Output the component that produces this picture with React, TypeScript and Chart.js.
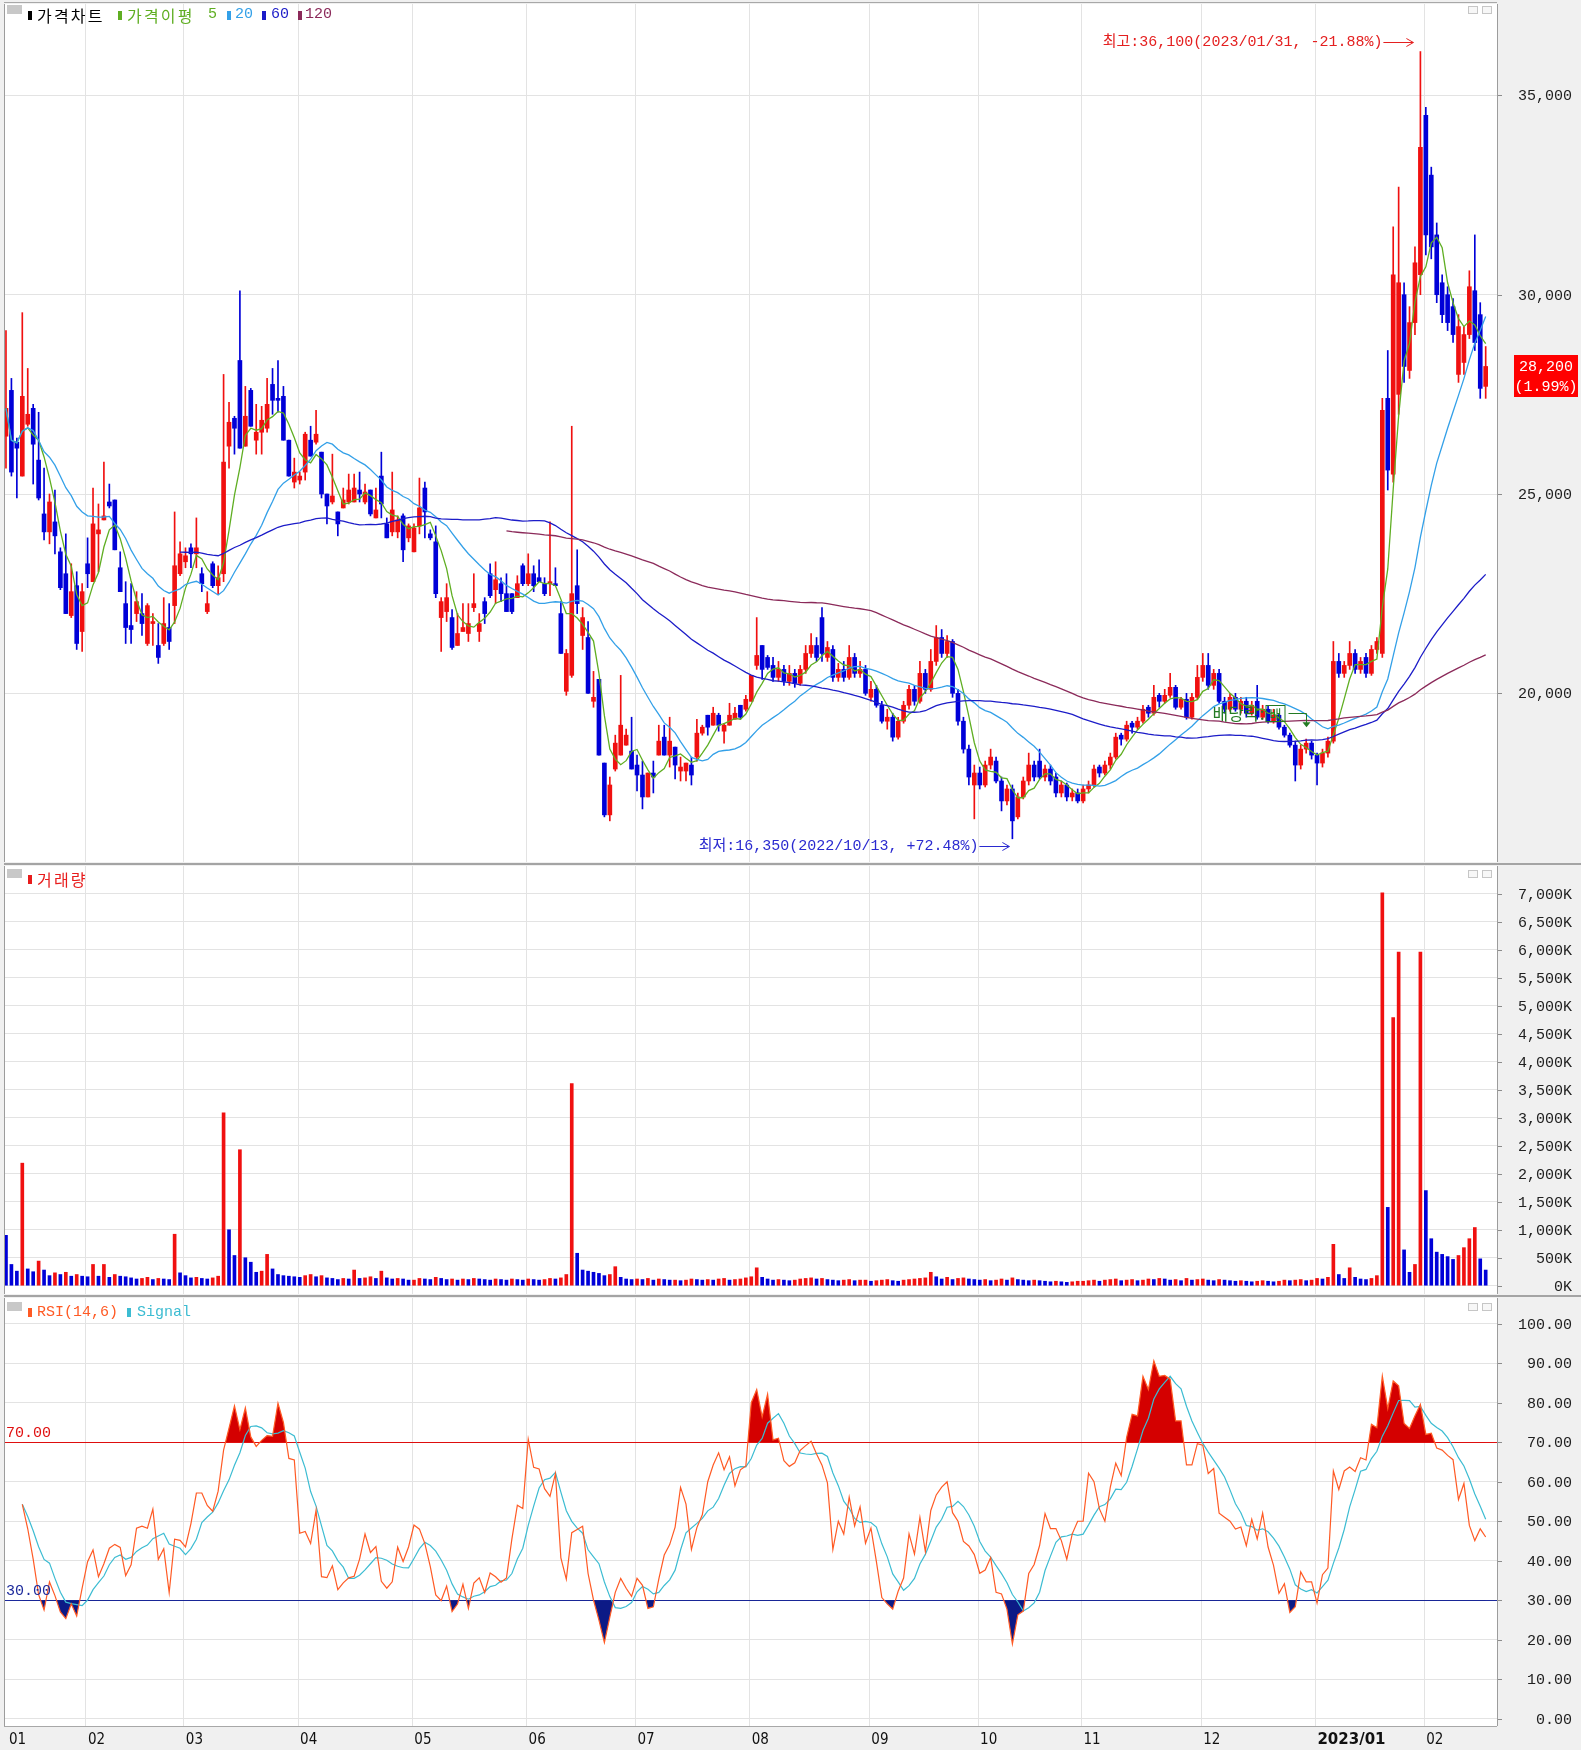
import React, { useEffect, useRef } from "react";
import { Chart, registerables } from "chart.js";

Chart.register(...registerables);

// ---------------- data ----------------
const MONTH_START = [0, 15, 33, 54, 75, 96, 116, 137, 159, 179, 198, 220, 241, 261];
const MONTH_LABELS = ["01", "02", "03", "04", "05", "06", "07", "08", "09", "10", "11", "12", "2023/01", "02"];

const OPEN = [
  // 2022-01
  26450, 27600, 26300, 25450, 26750, 27150, 25850, 24500, 24050, 24300, 23550, 23000, 21950, 22700, 21550,
  // 02
  23250, 22800, 24000, 24350, 24800, 24850, 23150, 22250, 21700, 22000, 22000, 21250, 21750, 21200, 21250, 21650, 22200, 23000,
  // 03
  23300, 23650, 23500, 23000, 22050, 23250, 22700, 23000, 26200, 26900, 28350, 26200, 27600, 26350, 26550, 26650, 27750, 27400, 27450, 26350, 25300,
  // 04
  25350, 25550, 26350, 26300, 26050, 25000, 24800, 24550, 24650, 24800, 24800, 25100, 24800, 25100, 24400, 25450, 24250, 24050, 24050, 24450, 23900,
  // 05
  23550, 24200, 25150, 24000, 23800, 21900, 22050, 21900, 21200, 21550, 21500, 22150, 21550, 22300, 23000, 22600, 22750, 22500, 22500, 22400, 23200,
  // 06
  22750, 23000, 22900, 22750, 22750, 22750, 22000, 20050, 20450, 22700, 21450, 21400, 19800, 20350, 18250, 16950, 18100, 18450, 18700, 18550,
  // 07
  18200, 17950, 17400, 18000, 18450, 18900, 18450, 18650, 18050, 18050, 18200, 18400, 19000, 19450, 19200, 19450, 19050, 19200, 19350, 19700, 19600,
  // 08
  19800, 20700, 21200, 20900, 20700, 20400, 20600, 20300, 20500, 20250, 20600, 21000, 21200, 21900, 20900, 21100, 20400, 20600, 20400, 20900, 20500, 20600,
  // 09
  19900, 20100, 19700, 19300, 19400, 18900, 19300, 19700, 20100, 19800, 20500, 20100, 20800, 21400, 21000, 21300, 20000, 19300, 18600, 17700,
  // 10
  18000, 17700, 18200, 18300, 17800, 17300, 17600, 16900, 17400, 17800, 18200, 18300, 17900, 18100, 17900, 17500, 17700, 17400, 17500,
  // 11
  17300, 17600, 17700, 18150, 18000, 18200, 18400, 18950, 18850, 19250, 19150, 19300, 19650, 19500, 19950, 19800, 19950, 20150, 19650, 19850, 19400, 19900,
  // 12
  20400, 20700, 20200, 20500, 19800, 19600, 19900, 19600, 19800, 19500, 19800, 19400, 19600, 19300, 19450, 19150, 18950, 18700, 18200, 18600, 18750,
  // 2023-01
  18450, 18250, 18500, 18800, 20800, 20500, 20700, 21000, 20600, 20900, 20500, 21100, 21000, 27400, 25500, 27500, 30000, 28100, 29300, 30500,
  // 02
  34500, 33000, 31500, 30300, 30000, 29700, 28000, 28300, 29000, 30100, 29500, 27700,
];

const HIGH = [
  29100, 27900, 26400, 29550, 28150, 27250, 27050, 25650, 25000, 25100, 23650, 24000, 23250, 23050, 22750,
  23900, 25150, 24750, 25800, 25250, 24850, 23550, 22800, 22750, 22550, 22500, 22250, 22000, 21750, 22400, 22250, 24550, 23800,
  23650, 23750, 24400, 23150, 22550, 23300, 23200, 28000, 27300, 26950, 30100, 27700, 27650, 27250, 27200, 27900, 28150, 28350, 27700, 26350, 25900,
  25550, 26550, 26700, 27100, 26050, 25000, 26000, 24550, 25150, 25500, 25500, 25550, 25250, 25100, 25150, 26050, 24400, 25550, 24450, 24500, 24250,
  24250, 25400, 25300, 24100, 24200, 22400, 22750, 22100, 22000, 22250, 22250, 23000, 22000, 22400, 23250, 23300, 22900, 23000, 22500, 22950, 23250,
  23500, 23200, 23350, 22900, 24300, 23150, 22300, 21100, 26700, 23600, 22150, 21800, 20550, 20350, 18250, 17900, 18950, 20450, 19100, 19400,
  18450, 18300, 18000, 18300, 19200, 19200, 19400, 18650, 18400, 18250, 18400, 19350, 19200, 19450, 19650, 19500, 19250, 19750, 19650, 19700, 19950,
  20450, 21900, 21200, 20950, 20900, 20800, 20700, 20700, 20600, 20700, 21200, 21500, 21400, 22150, 21300, 21200, 20750, 20800, 21200, 21000, 20800, 20700,
  20300, 20200, 19800, 19600, 19500, 19400, 19800, 20200, 20200, 20800, 20600, 21100, 21700, 21600, 21450, 21350, 20100, 19400, 18700, 18200,
  18150, 18300, 18600, 18400, 17900, 17700, 17700, 17500, 17900, 18500, 18300, 18600, 18200, 18200, 18000, 17800, 17750, 17600, 17600,
  17700, 17800, 18200, 18200, 18300, 18500, 19000, 19000, 19300, 19300, 19400, 19700, 19700, 20200, 20000, 20100, 20500, 20200, 19900, 20000, 20000, 20700,
  21000, 21000, 20600, 20600, 19900, 20000, 20000, 19900, 19900, 19800, 20200, 19700, 19700, 19600, 19500, 19200, 19000, 18800, 18700, 18850, 18800,
  18500, 18600, 18900, 21300, 21000, 20800, 21300, 21100, 20900, 21000, 21200, 21400, 27400, 28600, 31700, 32700, 30300, 29700, 31200, 36100,
  34700, 33200, 31800, 30500, 30200, 29900, 29500, 29200, 30600, 31500, 29800, 28700,
];

const LOW = [
  // 2022-01
  25650, 25450, 24900, 25450, 26700, 25250, 24850, 23850, 23750, 23500, 22600, 22000, 21900, 21100, 21050,
  // 02
  22650, 22800, 23050, 24350, 24650, 23600, 22550, 21250, 21250, 21800, 21450, 21200, 21200, 20750, 21200, 21100, 21750, 22950,
  // 03
  23150, 23150, 23150, 22550, 22000, 22650, 22500, 22800, 25650, 26000, 26150, 26200, 26700, 26000, 26000, 26550, 27000, 27050, 26350, 25450, 25150,
  // 04
  25250, 25350, 25950, 26250, 24900, 24250, 24750, 23950, 24650, 24750, 24800, 24800, 24750, 24450, 24400, 24400, 23900, 23950, 23900, 23300, 23800,
  // 05
  23550, 24000, 23900, 23850, 22400, 21050, 21800, 21100, 21200, 21550, 21300, 22050, 21300, 21750, 22400, 22250, 22300, 22050, 22000, 22400, 22700,
  // 06
  22700, 22550, 22800, 22450, 22450, 22700, 21000, 19950, 20400, 22000, 21100, 20000, 19650, 18450, 16900, 16800, 18050, 18450, 18700, 18100,
  // 07
  17550, 17100, 17400, 17500, 18450, 18450, 18150, 17850, 17800, 17800, 17700, 18300, 18950, 18950, 19200, 19050, 18750, 19200, 19350, 19350, 19550,
  // 08
  19800, 20600, 20350, 20600, 20300, 20300, 20200, 20200, 20150, 20200, 20500, 20900, 20800, 20800, 20800, 20300, 20300, 20300, 20350, 20400, 20400, 19950,
  // 09
  19800, 19650, 19250, 19100, 18800, 18850, 19250, 19600, 19700, 19750, 20000, 20050, 20700, 20900, 20900, 19900, 19200, 18500, 17700, 16850,
  // 10
  17600, 17650, 18100, 17750, 17050, 17200, 16350, 16850, 17350, 17700, 17800, 17850, 17800, 17700, 17400, 17400, 17300, 17300, 17250,
  // 11
  17250, 17500, 17650, 17900, 17950, 18100, 18350, 18700, 18800, 19000, 19100, 19250, 19400, 19450, 19650, 19750, 19900, 19600, 19600, 19350, 19350, 19850,
  // 12
  20300, 20100, 20100, 19750, 19500, 19550, 19550, 19500, 19400, 19450, 19350, 19350, 19250, 19250, 19100, 18900, 18650, 17800, 18100, 18500, 18350,
  // 2023-01
  17700, 18150, 18400, 18750, 20400, 20400, 20600, 20500, 20500, 20400, 20450, 21000, 20900, 25100, 25300, 27000, 27800, 27900, 29000, 30000,
  // 02
  31000, 30900, 29800, 29300, 29100, 28800, 27800, 28000, 28900, 28600, 27400, 27400,
];

const CLOSE = [
  27150, 25550, 26150, 27450, 27000, 26250, 24900, 24050, 24800, 23950, 22650, 22000, 22550, 21250, 22550,
  23000, 24250, 24100, 24450, 24700, 23600, 22550, 21650, 21600, 22300, 21750, 22200, 21800, 20900, 21750, 21300, 23200, 23500,
  23450, 23500, 23650, 22750, 22250, 22700, 22900, 25800, 26800, 26650, 26150, 26950, 26700, 26550, 26850, 27250, 27350, 27350, 26350, 25450, 25550,
  25450, 26500, 25950, 26500, 25000, 24700, 24950, 24250, 24850, 25100, 25150, 25000, 25050, 24500, 24600, 24750, 23900, 24600, 24350, 23600, 24200,
  24150, 24650, 24550, 23900, 22500, 22300, 22400, 21150, 21500, 21650, 21750, 22250, 21750, 22000, 22450, 22850, 22500, 22050, 22050, 22750, 22750,
  23000, 22700, 22800, 22500, 22800, 22700, 21000, 21000, 22500, 22250, 21900, 20000, 19900, 18450, 16950, 17700, 18750, 19200, 18950, 18100,
  17950, 17400, 18000, 17900, 18800, 18450, 18800, 18200, 18150, 18250, 17950, 19000, 19150, 19150, 19500, 19200, 19200, 19450, 19500, 19400, 19850,
  20450, 20950, 20600, 20650, 20400, 20600, 20300, 20500, 20250, 20600, 21000, 21200, 20900, 21000, 21150, 20400, 20600, 20400, 20900, 20500, 20600, 20000,
  20100, 19700, 19300, 19400, 18900, 19300, 19700, 20100, 19800, 20500, 20100, 20800, 21400, 21000, 21300, 20000, 19300, 18600, 17900, 18000,
  17700, 18200, 18400, 17800, 17300, 17600, 16800, 17400, 17800, 18200, 17900, 17900, 18100, 17800, 17500, 17700, 17400, 17500, 17300,
  17600, 17700, 18100, 18000, 18200, 18400, 18900, 18850, 19200, 19150, 19300, 19600, 19500, 19900, 19800, 19950, 20150, 19650, 19850, 19400, 19900, 20400,
  20700, 20200, 20500, 19800, 19600, 19900, 19600, 19800, 19500, 19700, 19400, 19600, 19300, 19450, 19150, 18950, 18700, 18200, 18600, 18750, 18450,
  18250, 18500, 18800, 20800, 20500, 20700, 21000, 20600, 20800, 20500, 21100, 21300, 27100, 25600, 30500, 30300, 28200, 29300, 30800, 33700,
  31500, 31200, 30000, 29500, 29300, 29000, 29200, 29000, 30200, 28800, 27650, 28200,
];

// volume in thousands of shares
const VOLUME_K = [
  900, 380, 260, 2190, 300, 250, 440, 280, 180, 230, 200, 240, 170, 200, 170,
  160, 380, 170, 380, 150, 200, 170, 160, 140, 120, 130, 150, 110, 130, 120, 110, 920, 230,
  180, 140, 150, 130, 120, 140, 170, 3090, 1000, 540, 2430, 500, 420, 240, 260, 560, 300, 200, 180, 170, 160,
  150, 180, 200, 160, 180, 140, 130, 110, 130, 120, 280, 130, 140, 160, 130, 260, 140, 120, 130, 120, 100,
  100, 130, 120, 110, 150, 130, 110, 120, 100, 120, 110, 130, 120, 110, 100, 120, 110, 100, 120, 110, 100,
  120, 110, 100, 110, 130, 120, 140, 200, 3610, 580, 280, 260, 240, 220, 180, 200, 340, 150, 120, 110,
  120, 110, 130, 100, 120, 110, 100, 100, 90, 100, 120, 110, 100, 110, 100, 120, 130, 100, 110, 120, 140,
  160, 320, 150, 120, 100, 110, 100, 90, 100, 120, 130, 140, 120, 130, 110, 100, 90, 100, 110, 90, 100, 100,
  80, 90, 100, 110, 90, 80, 100, 110, 120, 130, 140, 240, 160, 120, 150, 110, 130, 140, 120, 110,
  100, 110, 90, 100, 120, 100, 140, 110, 100, 90, 100, 90, 80, 70, 80, 70, 60, 70, 80,
  80, 90, 100, 80, 100, 110, 120, 90, 100, 110, 90, 100, 120, 110, 130, 120, 100, 110, 90, 130, 100, 110,
  120, 100, 90, 110, 100, 90, 80, 90, 80, 70, 80, 90, 80, 70, 80, 100, 90, 100, 110, 90, 100,
  130, 120, 150, 740, 200, 130, 320, 150, 120, 110, 130, 180, 7020, 1400, 4790, 5960, 640, 240, 380, 5960,
  1700, 840, 600, 560, 520, 470, 540, 680, 840, 1040, 480, 280,
];

const PRICE_TICKS = [20000, 25000, 30000, 35000];
const VOLUME_TICKS = [0, 500, 1000, 1500, 2000, 2500, 3000, 3500, 4000, 4500, 5000, 5500, 6000, 6500, 7000];
const RSI_TICKS = [0, 10, 20, 30, 40, 50, 60, 70, 80, 90, 100];
const RSI_LEVELS = [70, 30];
const HIGH_DATE = "2023/01/31";
const LOW_DATE = "2022/10/13";
const DIVIDEND_INDEX = 239;

// ---------------- derived indicator series ----------------
const N = CLOSE.length;
const IDX = CLOSE.map((_, i) => i);

function movingAverage(values: number[], period: number, firstShown: number) {
  return values.map((_, i) => {
    if (i < firstShown) return null;
    const from = Math.max(0, i - period + 1);
    let s = 0;
    for (let k = from; k <= i; k++) s += values[k];
    return s / (i - from + 1);
  });
}

// RSI with simple averages of gains / losses over the period
function rsiSeries(closes: number[], period: number, firstShown: number) {
  return closes.map((_, i) => {
    if (i < firstShown) return null;
    const from = Math.max(1, i - period + 1);
    let g = 0;
    let l = 0;
    for (let k = from; k <= i; k++) {
      const d = closes[k] - closes[k - 1];
      if (d > 0) g += d;
      else l -= d;
    }
    return g + l === 0 ? 50 : (100 * g) / (g + l);
  });
}

const MA5 = movingAverage(CLOSE, 5, 0);
const MA20 = movingAverage(CLOSE, 20, 0);
const MA60 = movingAverage(CLOSE, 60, 32);
const MA120 = movingAverage(CLOSE, 120, 92);
const RSI = rsiSeries(CLOSE, 14, 3);
const SIGNAL = RSI.map((_, i) => {
  const vals = RSI.slice(Math.max(0, i - 5), i + 1).filter((v) => v != null) as number[];
  return RSI[i] == null || !vals.length ? null : vals.reduce((s, v) => s + v, 0) / vals.length;
});

// ---------------- style constants ----------------
const W = 1581;
const PLOT_RIGHT_PAD = W - 1497;
const X_MIN = -0.18;
const X_MAX = 274.08;
const LABEL_RIGHT = 1572;
const GRID = "#e3e3e3";
const RED = "#f01010";
const BLUE = "#0000d8";
const C_MA5 = "#5fae22";
const C_MA20 = "#33a0e8";
const C_MA60 = "#1c1cc8";
const C_MA120 = "#8b2a5a";
const FONT_MONO = "'Liberation Mono', 'DejaVu Sans Mono', 'Noto Sans CJK KR', monospace";
const FONT_KR = "'Noto Sans CJK KR', 'Noto Sans', sans-serif";

const CANDLE_COLORS = IDX.map((i) => (CLOSE[i] >= OPEN[i] ? RED : BLUE));
// volume bars: red when volume rose from the previous session, blue otherwise
const VOLUME_COLORS = IDX.map((i) => (i > 0 && VOLUME_K[i] >= VOLUME_K[i - 1] ? RED : BLUE));

function xScale() {
  return {
    type: "linear",
    min: X_MIN,
    max: X_MAX,
    offset: false,
    afterBuildTicks: (s: any) => {
      s.ticks = MONTH_START.slice(1).map((m) => ({ value: m - 0.3 }));
    },
    afterFit: (s: any) => {
      s.height = 0;
    },
    ticks: { display: false },
    grid: { color: GRID, lineWidth: 1, drawTicks: false, offset: false },
    border: { display: false },
  };
}

function yScale(min: number, max: number, ticks: number[]) {
  return {
    type: "linear",
    min,
    max,
    afterBuildTicks: (s: any) => {
      s.ticks = ticks.map((v) => ({ value: v }));
    },
    afterFit: (s: any) => {
      s.width = 0;
    },
    ticks: { display: false },
    grid: { color: GRID, lineWidth: 1, drawTicks: false },
    border: { display: false },
  };
}

function framePlugin(ticks: number[], fmt: (v: number) => string) {
  return {
    id: "frame",
    beforeDraw(chart: any) {
      const { ctx, chartArea: a } = chart;
      ctx.save();
      ctx.fillStyle = "#ffffff";
      ctx.fillRect(a.left, a.top, a.right - a.left, a.bottom - a.top);
      ctx.restore();
    },
    afterDraw(chart: any) {
      const { ctx, chartArea: a } = chart;
      const ys = chart.scales.y;
      ctx.save();
      ctx.strokeStyle = "#9c9c9c";
      ctx.lineWidth = 1;
      ctx.beginPath();
      ctx.moveTo(a.left - 0.5, a.top);
      ctx.lineTo(a.left - 0.5, a.bottom);
      ctx.moveTo(a.right + 0.5, a.top);
      ctx.lineTo(a.right + 0.5, a.bottom);
      ctx.stroke();
      ctx.font = `15px ${FONT_MONO}`;
      ctx.fillStyle = "#202020";
      ctx.textAlign = "right";
      ctx.textBaseline = "middle";
      for (const v of ticks) {
        const y = Math.round(ys.getPixelForValue(v)) + 0.5;
        ctx.strokeStyle = "#8c8c8c";
        ctx.beginPath();
        ctx.moveTo(a.right + 1, y);
        ctx.lineTo(a.right + 5, y);
        ctx.stroke();
        ctx.fillText(fmt(v), LABEL_RIGHT, y + 1);
      }
      ctx.restore();
    },
  };
}

const fmtNum = (v: number) => v.toLocaleString("en-US");
const pctText = (ratio: number) => {
  const p = (ratio - 1) * 100;
  return (p >= 0 ? "+" : "") + p.toFixed(2);
};

function drawNote(ctx: any, text: string, endX: number, y: number, color: string) {
  const arrowLen = 30;
  ctx.save();
  ctx.font = `15px ${FONT_MONO}`;
  ctx.fillStyle = color;
  ctx.strokeStyle = color;
  ctx.lineWidth = 1;
  ctx.textAlign = "right";
  ctx.textBaseline = "middle";
  ctx.fillText(text, endX - arrowLen - 1, y);
  const ly = Math.round(y) + 0.5;
  ctx.beginPath();
  ctx.moveTo(endX - arrowLen, ly);
  ctx.lineTo(endX, ly);
  ctx.moveTo(endX - 7, ly - 4);
  ctx.lineTo(endX, ly);
  ctx.lineTo(endX - 7, ly + 4);
  ctx.stroke();
  ctx.restore();
}

const priceNotes = {
  id: "priceNotes",
  afterDraw(chart: any) {
    const { ctx } = chart;
    const xs = chart.scales.x;
    const ys = chart.scales.y;
    const last = CLOSE[N - 1];
    let hi = 0;
    let lo = 0;
    for (let i = 1; i < N; i++) {
      if (HIGH[i] > HIGH[hi]) hi = i;
      if (LOW[i] < LOW[lo]) lo = i;
    }
    drawNote(
      ctx,
      `최고:${fmtNum(HIGH[hi])}(${HIGH_DATE}, ${pctText(last / HIGH[hi])}%)`,
      xs.getPixelForValue(hi) - 7,
      ys.getPixelForValue(HIGH[hi]) - 10,
      "#e42020"
    );
    drawNote(
      ctx,
      `최저:${fmtNum(LOW[lo])}(${LOW_DATE}, ${pctText(last / LOW[lo])}%)`,
      xs.getPixelForValue(lo) - 3,
      ys.getPixelForValue(LOW[lo]) + 7,
      "#2a2ad0"
    );

    // ex-dividend marker
    const dx = Math.round(xs.getPixelForValue(DIVIDEND_INDEX)) + 0.5;
    const tipY = ys.getPixelForValue(HIGH[DIVIDEND_INDEX]) - 12;
    const lineY = Math.round(tipY - 14) + 0.5;
    ctx.save();
    const green = "#237a23";
    ctx.strokeStyle = green;
    ctx.fillStyle = green;
    ctx.lineWidth = 1;
    ctx.beginPath();
    ctx.moveTo(dx - 18, lineY);
    ctx.lineTo(dx, lineY);
    ctx.lineTo(dx, tipY - 4);
    ctx.stroke();
    ctx.beginPath();
    ctx.moveTo(dx - 4, tipY - 5);
    ctx.lineTo(dx + 4, tipY - 5);
    ctx.lineTo(dx, tipY);
    ctx.closePath();
    ctx.fill();
    ctx.font = `17px ${FONT_KR}`;
    ctx.textAlign = "right";
    ctx.textBaseline = "middle";
    ctx.fillText("배당락", dx - 47, lineY);
    ctx.fillText(":", dx - 42, lineY);
    ctx.strokeRect(dx - 40.5, lineY - 8, 19, 16);
    ctx.font = `13px ${FONT_KR}`;
    ctx.textAlign = "center";
    ctx.fillText("배", dx - 31, lineY + 0.5);
    ctx.restore();

    // last price box
    const py = ys.getPixelForValue(last);
    ctx.save();
    ctx.fillStyle = "#ff0000";
    ctx.fillRect(1514, Math.round(py) - 11, 64, 42);
    ctx.fillStyle = "#ffffff";
    ctx.font = `15px ${FONT_MONO}`;
    ctx.textAlign = "center";
    ctx.textBaseline = "middle";
    ctx.fillText(fmtNum(last), 1546, Math.round(py) + 1);
    ctx.fillText(`(${pctText(last / CLOSE[N - 2]).replace("+", "")}%)`, 1546, Math.round(py) + 21);
    ctx.restore();
  },
};

const rsiDecor = {
  id: "rsiDecor",
  beforeDatasetsDraw(chart: any) {
    const { ctx, chartArea: a } = chart;
    const ys = chart.scales.y;
    ctx.save();
    RSI_LEVELS.forEach((v) => {
      const y = Math.round(ys.getPixelForValue(v)) + 0.5;
      ctx.strokeStyle = v >= 50 ? "#e01010" : "#1c2a9c";
      ctx.lineWidth = 1;
      ctx.beginPath();
      ctx.moveTo(a.left, y);
      ctx.lineTo(a.right, y);
      ctx.stroke();
    });
    ctx.restore();
  },
  afterDraw(chart: any) {
    const { ctx, chartArea: a } = chart;
    const xs = chart.scales.x;
    const ys = chart.scales.y;
    ctx.save();
    ctx.font = `15px ${FONT_MONO}`;
    ctx.textAlign = "left";
    ctx.textBaseline = "bottom";
    RSI_LEVELS.forEach((v) => {
      const y = Math.round(ys.getPixelForValue(v));
      ctx.fillStyle = v >= 50 ? "#e01010" : "#1c2a9c";
      ctx.fillText(v.toFixed(2), a.left + 1, y - 1);
    });
    // month labels under the chart
    ctx.fillStyle = "#101010";
    ctx.textBaseline = "middle";
    MONTH_START.forEach((m, k) => {
      const label = MONTH_LABELS[k];
      const x = k === 0 ? a.left + 4 : xs.getPixelForValue(m - 0.3) + 2;
      ctx.font = label.length > 2 ? "bold 15px 'DejaVu Sans', sans-serif" : "15px 'DejaVu Sans Condensed', 'DejaVu Sans', sans-serif";
      ctx.fillText(label, x, a.bottom + 14);
    });
    ctx.restore();
  },
};

const baseOptions = (padding: any) => ({
  responsive: false,
  animation: false,
  events: [],
  layout: { padding },
  plugins: { legend: { display: false }, tooltip: { enabled: false } },
});

function lineDs(label: string, data: (number | null)[], color: string, width = 1.3) {
  return {
    type: "line",
    label,
    data: IDX.map((i) => ({ x: i, y: data[i] })),
    borderColor: color,
    borderWidth: width,
    pointRadius: 0,
    tension: 0,
    fill: false,
    order: 0,
  };
}

function priceConfig(): any {
  return {
    type: "bar",
    data: {
      datasets: [
        lineDs("MA120", MA120, C_MA120),
        lineDs("MA60", MA60, C_MA60),
        lineDs("MA20", MA20, C_MA20),
        lineDs("MA5", MA5, C_MA5),
        {
          type: "bar",
          label: "body",
          data: IDX.map((i) => ({ x: i, y: [OPEN[i], CLOSE[i]] })),
          backgroundColor: CANDLE_COLORS,
          barThickness: 4,
          minBarLength: 1,
          grouped: false,
          order: 1,
        },
        {
          type: "bar",
          label: "wick",
          data: IDX.map((i) => ({ x: i, y: [LOW[i], HIGH[i]] })),
          backgroundColor: CANDLE_COLORS,
          barThickness: 1,
          grouped: false,
          order: 2,
        },
      ],
    },
    options: {
      ...baseOptions({ left: 5, right: PLOT_RIGHT_PAD, top: 4, bottom: 1 }),
      scales: { x: xScale(), y: yScale(15768, 37293, PRICE_TICKS) },
    },
    plugins: [framePlugin(PRICE_TICKS, fmtNum), priceNotes],
  };
}

function volumeConfig(): any {
  return {
    type: "bar",
    data: {
      datasets: [
        {
          label: "volume",
          data: IDX.map((i) => ({ x: i, y: VOLUME_K[i] })),
          backgroundColor: VOLUME_COLORS,
          barThickness: 3,
          grouped: false,
        },
      ],
    },
    options: {
      ...baseOptions({ left: 5, right: PLOT_RIGHT_PAD, top: 1, bottom: 1 }),
      scales: { x: xScale(), y: yScale(-148, 7500, VOLUME_TICKS) },
    },
    plugins: [framePlugin(VOLUME_TICKS, (v) => fmtNum(v) + "K")],
  };
}

function rsiConfig(): any {
  const pts = (arr: (number | null)[]) => IDX.map((i) => ({ x: i, y: arr[i] }));
  return {
    type: "line",
    data: {
      datasets: [
        {
          label: "over",
          data: pts(RSI),
          borderWidth: 0,
          pointRadius: 0,
          fill: { target: { value: 70 }, above: "#d40000", below: "rgba(0,0,0,0)" },
          order: 3,
        },
        {
          label: "under",
          data: pts(RSI),
          borderWidth: 0,
          pointRadius: 0,
          fill: { target: { value: 30 }, above: "rgba(0,0,0,0)", below: "#0c1a86" },
          order: 3,
        },
        {
          label: "Signal",
          data: pts(SIGNAL),
          borderColor: "#3cbcd2",
          borderWidth: 1.2,
          pointRadius: 0,
          fill: false,
          order: 1,
        },
        {
          label: "RSI(14,6)",
          data: pts(RSI),
          borderColor: "#ff5a24",
          borderWidth: 1.2,
          pointRadius: 0,
          fill: false,
          order: 0,
        },
      ],
    },
    options: {
      ...baseOptions({ left: 5, right: PLOT_RIGHT_PAD, top: 1, bottom: 24 }),
      scales: { x: xScale(), y: yScale(-1.82, 106.5, RSI_TICKS) },
    },
    plugins: [framePlugin(RSI_TICKS, (v) => v.toFixed(2)), rsiDecor],
  };
}

// ---------------- overlay text ----------------
const abs = (x: number, y: number, extra: any = {}) => ({ position: "absolute", left: x, top: y, ...extra });
const krText = { font: `16px ${FONT_KR}`, letterSpacing: "2.2px", lineHeight: "18px", whiteSpace: "nowrap" };
const monoText = { font: `15px ${FONT_MONO}`, lineHeight: "18px", whiteSpace: "nowrap" };

function Marker({ x, y, color }: { x: number; y: number; color: string }) {
  return <div style={abs(x, y, { width: 4, height: 9, background: color }) as any} />;
}

function PanelIcons({ y }: { y: number }) {
  const box = (x: number) =>
    abs(x, y, { width: 10, height: 8, border: "1px solid #c6c6c6", background: "#f7f7f7", boxSizing: "border-box" });
  return (
    <>
      <div style={abs(7, y - 1, { width: 15, height: 9, background: "#c8c8c8" }) as any} />
      <div style={box(1468) as any} />
      <div style={box(1482) as any} />
    </>
  );
}

export default function App() {
  const priceRef = useRef<HTMLCanvasElement>(null);
  const volRef = useRef<HTMLCanvasElement>(null);
  const rsiRef = useRef<HTMLCanvasElement>(null);

  useEffect(() => {
    const charts = [
      new Chart(priceRef.current as HTMLCanvasElement, priceConfig()),
      new Chart(volRef.current as HTMLCanvasElement, volumeConfig()),
      new Chart(rsiRef.current as HTMLCanvasElement, rsiConfig()),
    ];
    return () => charts.forEach((c) => c.destroy());
  }, []);

  return (
    <div style={{ position: "relative", width: W, height: 1750, background: "#f0f0f0", overflow: "hidden" }}>
      <style>{`body{margin:0;}`}</style>
      <canvas ref={priceRef} width={W} height={863} style={abs(0, 0) as any} />
      <canvas ref={volRef} width={W} height={430} style={abs(0, 865) as any} />
      <canvas ref={rsiRef} width={W} height={453} style={abs(0, 1297) as any} />
      {/* frame lines */}
      <div style={abs(4, 2, { width: 1493, height: 1, background: "#a8a8a8" }) as any} />
      <div style={abs(4, 863, { width: W - 4, height: 2, background: "#a4a4a4" }) as any} />
      <div style={abs(4, 1295, { width: W - 4, height: 2, background: "#a4a4a4" }) as any} />
      <div style={abs(4, 1726, { width: 1493, height: 1, background: "#a8a8a8" }) as any} />

      {/* price legend */}
      <PanelIcons y={6} />
      <Marker x={28} y={11} color="#000000" />
      <div style={abs(37, 6, { ...krText, color: "#000000" }) as any}>가격차트</div>
      <Marker x={118} y={11} color={C_MA5} />
      <div style={abs(127, 6, { ...krText, color: C_MA5 }) as any}>가격이평</div>
      <div style={abs(208, 6, { ...monoText, color: C_MA5 }) as any}>5</div>
      <Marker x={227} y={11} color={C_MA20} />
      <div style={abs(235, 6, { ...monoText, color: C_MA20 }) as any}>20</div>
      <Marker x={262} y={11} color={C_MA60} />
      <div style={abs(271, 6, { ...monoText, color: C_MA60 }) as any}>60</div>
      <Marker x={298} y={11} color={C_MA120} />
      <div style={abs(305, 6, { ...monoText, color: C_MA120 }) as any}>120</div>

      {/* volume legend */}
      <PanelIcons y={870} />
      <Marker x={28} y={875} color="#e81c1c" />
      <div style={abs(37, 870, { ...krText, color: "#e81c1c" }) as any}>거래량</div>

      {/* RSI legend */}
      <PanelIcons y={1303} />
      <Marker x={28} y={1308} color="#ff5a24" />
      <div style={abs(37, 1304, { ...monoText, color: "#ff5a24" }) as any}>RSI(14,6)</div>
      <Marker x={127} y={1308} color="#3cbcd2" />
      <div style={abs(137, 1304, { ...monoText, color: "#3cbcd2" }) as any}>Signal</div>
    </div>
  );
}
